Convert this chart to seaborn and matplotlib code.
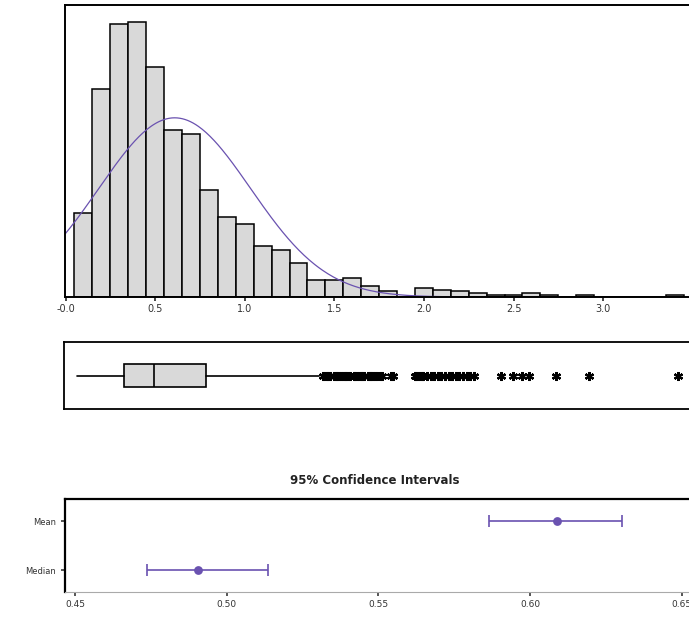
import numpy as np
import matplotlib
matplotlib.use("Agg")
import matplotlib.pyplot as plt
import seaborn as sns

# histogram: bin centres (width 0.1) and counts
bin_centers = [0.1, 0.2, 0.3, 0.4, 0.5, 0.6, 0.7, 0.8, 0.9, 1.0, 1.1, 1.2,
               1.3, 1.4, 1.5, 1.6, 1.7, 1.8, 1.9, 2.0, 2.1, 2.2, 2.3, 2.4,
               2.5, 2.6, 2.7, 2.8, 2.9, 3.0, 3.1, 3.2, 3.3, 3.4]
counts = [45, 111, 146, 147, 123, 89, 87, 57, 43, 39, 27, 25,
          18, 9, 9, 10, 6, 3, 0, 5, 4, 3, 2, 1,
          1, 2, 1, 0, 1, 0, 0, 0, 0, 1]
bin_width = 0.1

# fitted normal curve parameters
fit_mean = 0.609
fit_sd = 0.423
curve_range = (-0.003, 2.2)

# boxplot summary
box_whislo, box_q1, box_med, box_q3, box_whishi = 0.067, 0.33, 0.50, 0.786, 1.42
outliers = [1.44, 1.45, 1.46, 1.47, 1.48, 1.50, 1.51, 1.52, 1.53, 1.54, 1.55,
            1.56, 1.57, 1.58, 1.59, 1.61, 1.62, 1.63, 1.64, 1.65, 1.66, 1.67,
            1.69, 1.70, 1.71, 1.72, 1.73, 1.74, 1.76, 1.77, 1.82, 1.83,
            1.95, 1.96, 1.97, 1.98, 1.99, 2.00, 2.02, 2.04, 2.06, 2.08, 2.10,
            2.12, 2.14, 2.16, 2.18, 2.20, 2.22, 2.24, 2.26, 2.28,
            2.43, 2.50, 2.55, 2.59, 2.74, 2.92, 3.42]

hist_ticks = [0.0, 0.5, 1.0, 1.5, 2.0, 2.5, 3.0]
hist_ticklabels = ["-0.0", "0.5", "1.0", "1.5", "2.0", "2.5", "3.0"]

# 95% confidence intervals
ci_labels = ["Mean", "Median"]
ci_center = [0.6087, 0.4906]
ci_low = [0.5865, 0.4738]
ci_high = [0.6304, 0.5137]
ci_ticks = [0.45, 0.50, 0.55, 0.60, 0.65]
ci_ticklabels = ["0.45", "0.50", "0.55", "0.60", "0.65"]

sns.set_style("white")
plt.rcParams["font.family"] = ["DejaVu Sans"]

W, H = 689, 619
fig = plt.figure(figsize=(W / 100, H / 100), dpi=100)


def px_axes(left, top, right, bottom):
    return fig.add_axes([left / W, 1 - bottom / H, (right - left) / W, (bottom - top) / H])


purple = "#6a52b0"
gray_fill = "#d9d9d9"
xlim_hist = (-0.003, 3.496)

# ---------------- histogram ----------------
ax1 = px_axes(65, 5, 692, 297)
edges = [c - bin_width / 2 for c in bin_centers] + [bin_centers[-1] + bin_width / 2]
sns.histplot(x=bin_centers, weights=counts, bins=edges, ax=ax1,
             color=gray_fill, edgecolor="black", linewidth=1.1, alpha=1)
xs = np.linspace(curve_range[0], curve_range[1], 300)
ys = sum(counts) * bin_width / (fit_sd * np.sqrt(2 * np.pi)) * np.exp(-(xs - fit_mean) ** 2 / (2 * fit_sd ** 2))
sns.lineplot(x=xs, y=ys, ax=ax1, color=purple, linewidth=0.9)
ax1.set_xlim(*xlim_hist)
ax1.set_ylim(0, 156)
ax1.set_xticks(hist_ticks)
ax1.set_xticklabels(hist_ticklabels, fontsize=7, color="#333333")
ax1.set_yticks([])
ax1.set_xlabel("")
ax1.set_ylabel("")
ax1.tick_params(axis="x", direction="out", length=3, width=1.2, pad=2, bottom=True)
for s in ax1.spines.values():
    s.set_visible(True)
    s.set_color("black")
    s.set_linewidth(1.4)

# ---------------- boxplot ----------------
ax2 = px_axes(64, 342, 692, 409)
stats = [{"whislo": box_whislo, "q1": box_q1, "med": box_med, "q3": box_q3,
          "whishi": box_whishi, "fliers": outliers}]
ax2.bxp(stats, vert=False, positions=[0], widths=0.7, patch_artist=True,
        showcaps=False,
        boxprops=dict(facecolor=gray_fill, edgecolor="black", linewidth=1.2),
        medianprops=dict(color="black", linewidth=1.2),
        whiskerprops=dict(color="black", linewidth=1.2),
        flierprops=dict(marker=(6, 2, 0), markersize=6.5, markeredgewidth=1.6,
                        markeredgecolor="black", markerfacecolor="black", linestyle="none"))
ax2.set_xlim(*xlim_hist)
ax2.set_ylim(-1, 1)
ax2.set_xticks([])
ax2.set_yticks([])
for s in ax2.spines.values():
    s.set_visible(True)
    s.set_color("black")
    s.set_linewidth(1.3)

# ---------------- confidence intervals ----------------
ax3 = px_axes(64.7, 498.7, 692, 592)
ypos = [1, 0]
for y, c, lo, hi in zip(ypos, ci_center, ci_low, ci_high):
    ax3.errorbar([c], [y], xerr=[[c - lo], [hi - c]], fmt="none",
                 ecolor=purple, elinewidth=1.2, capsize=4.3, capthick=1.2)
sns.scatterplot(x=ci_center, y=ypos, ax=ax3, color=purple, s=40,
                edgecolor=purple, linewidth=0, zorder=3)
ax3.set_xlim(0.4466, 0.4466 + (692 - 64.7) / 3034)
ax3.set_ylim(-0.45, 1.46)
ax3.set_xticks(ci_ticks)
ax3.set_xticklabels(ci_ticklabels, fontsize=6.5, color="#333333")
ax3.set_yticks(ypos)
ax3.set_yticklabels(ci_labels, fontsize=6, color="#333333")
ax3.tick_params(axis="x", direction="out", length=3, width=1.1, pad=3, bottom=True)
ax3.tick_params(axis="y", direction="out", length=3, width=1.1, pad=3, left=True)
for name, s in ax3.spines.items():
    s.set_visible(True)
    s.set_color("black")
    s.set_linewidth(1.6)
ax3.spines["bottom"].set_color("#aaaaaa")
ax3.spines["bottom"].set_linewidth(0.8)

fig.text(375 / W, 1 - 481 / H, "95% Confidence Intervals", ha="center", va="center",
         fontsize=8.5, fontweight="bold", color="#222222")

fig.savefig("out.png", dpi=100)
